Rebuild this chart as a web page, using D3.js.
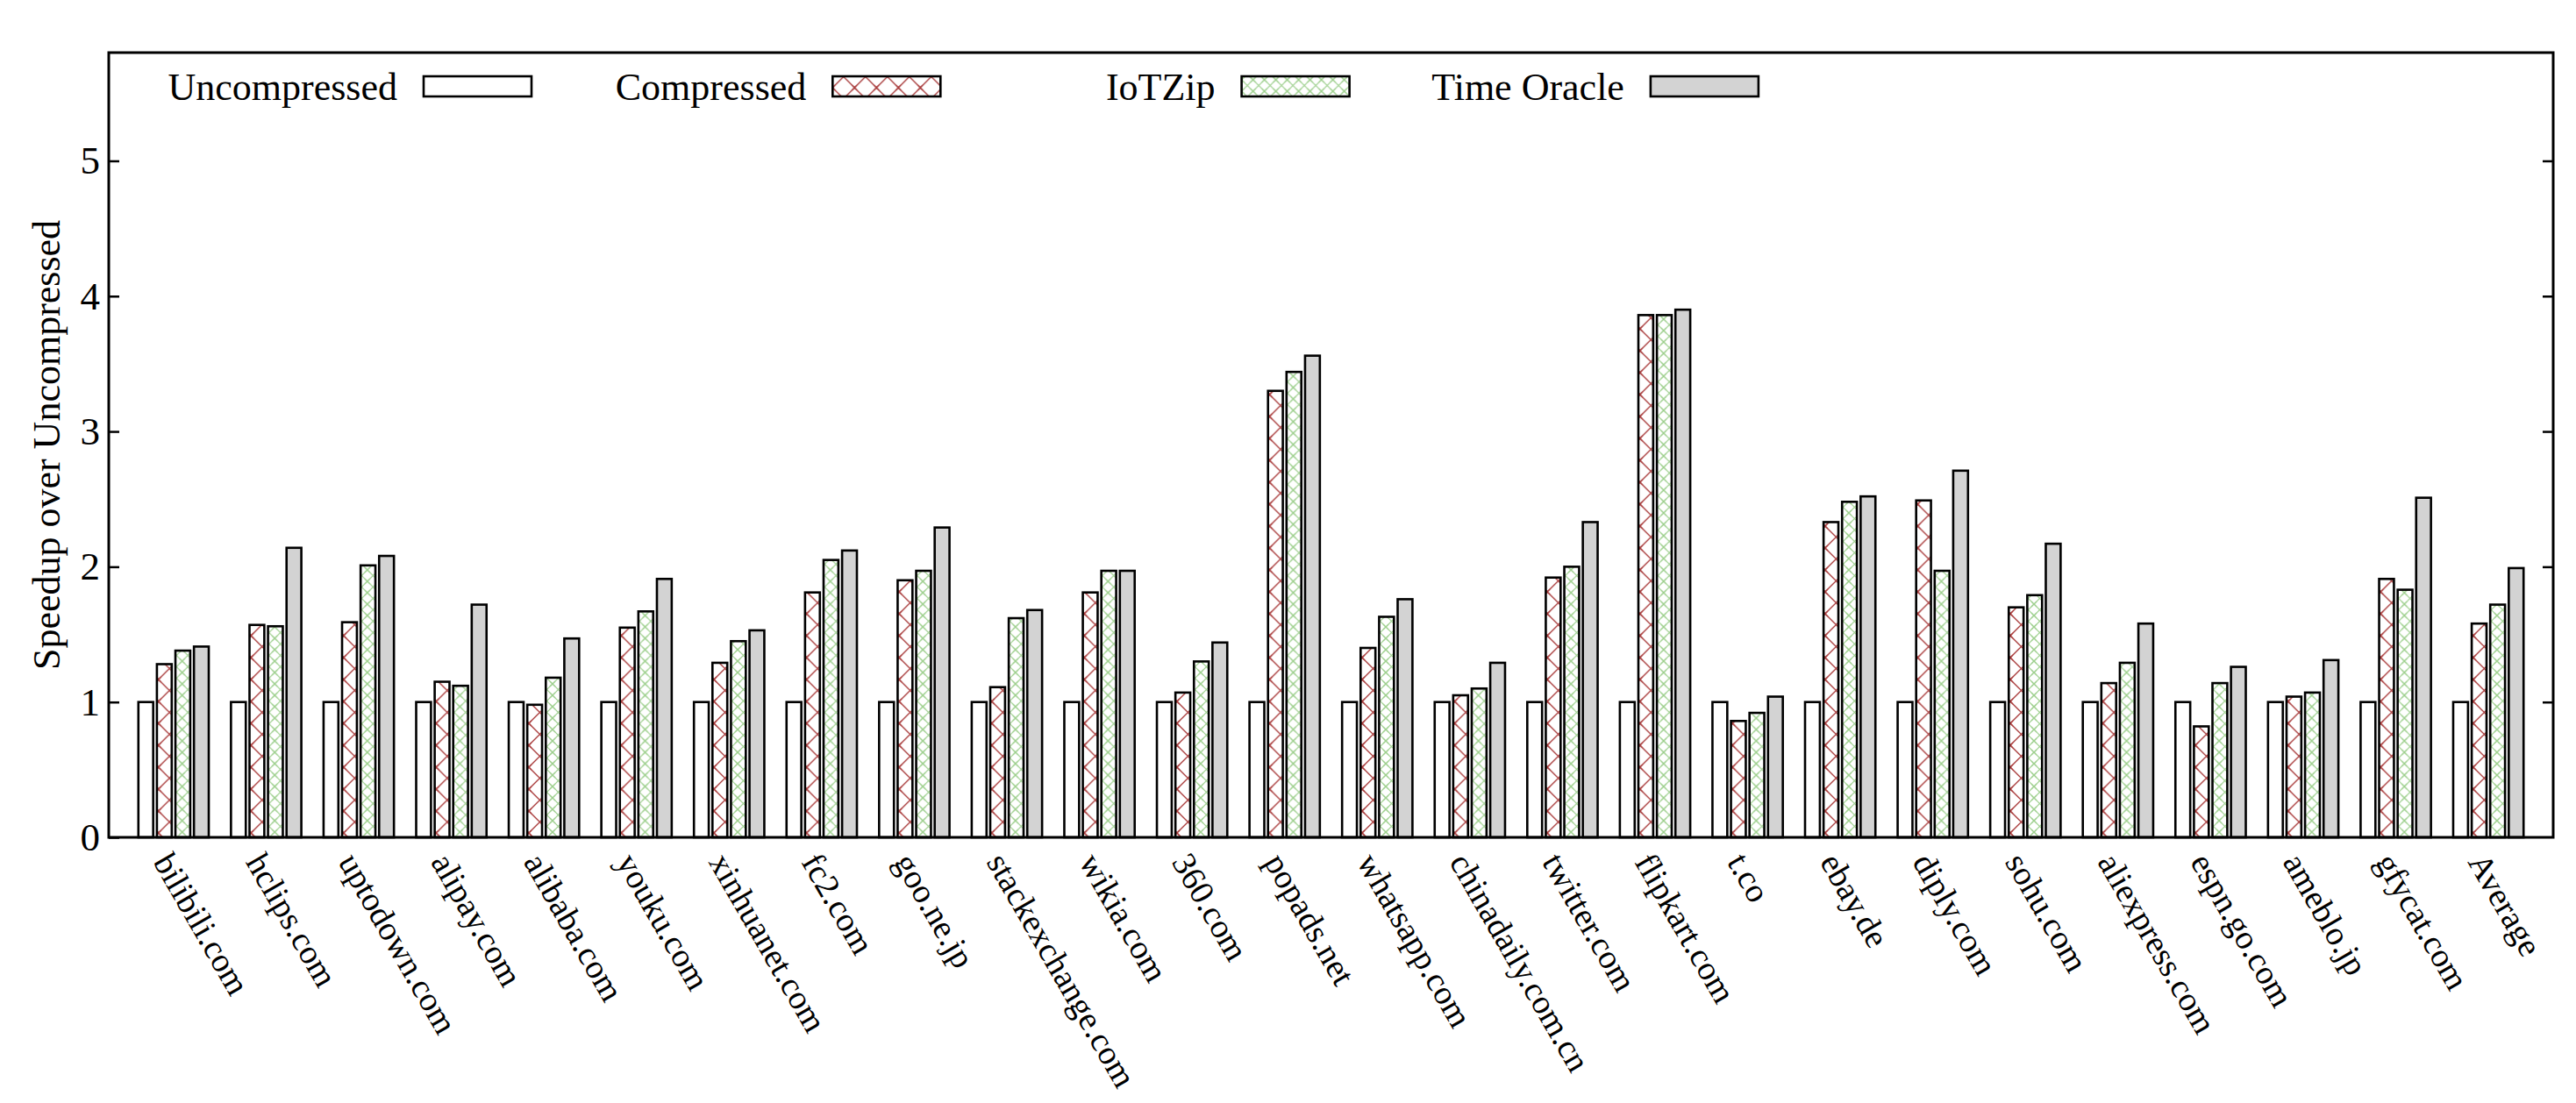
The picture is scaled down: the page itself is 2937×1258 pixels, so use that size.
<!DOCTYPE html>
<html><head><meta charset="utf-8">
<script src="https://cdn.jsdelivr.net/npm/d3@7"></script>
<style>html,body{margin:0;padding:0;background:#fff;} svg{display:block}</style>
</head><body>
<svg id="chart" width="2937" height="1258"></svg>
<script>
// ---------------- data ----------------
const categories = ["bilibili.com","hclips.com","uptodown.com","alipay.com","alibaba.com","youku.com",
  "xinhuanet.com","fc2.com","goo.ne.jp","stackexchange.com","wikia.com","360.com","popads.net",
  "whatsapp.com","chinadaily.com.cn","twitter.com","flipkart.com","t.co","ebay.de","diply.com",
  "sohu.com","aliexpress.com","espn.go.com","ameblo.jp","gfycat.com","Average"];
const seriesNames = ["Uncompressed","Compressed","IoTZip","Time Oracle"];
const uncompressed = [1,1,1,1,1,1,1,1,1,1,1,1,1,1,1,1,1,1,1,1,1,1,1,1,1,1];
const compressed   = [1.28,1.57,1.59,1.15,0.98,1.55,1.29,1.81,1.90,1.11,1.81,1.07,3.30,1.40,1.05,1.92,3.86,0.86,2.33,2.49,1.70,1.14,0.82,1.04,1.91,1.58];
const iotzip       = [1.38,1.56,2.01,1.12,1.18,1.67,1.45,2.05,1.97,1.62,1.97,1.30,3.44,1.63,1.10,2.00,3.86,0.92,2.48,1.97,1.79,1.29,1.14,1.07,1.83,1.72];
const timeOracle   = [1.41,2.14,2.08,1.72,1.47,1.91,1.53,2.12,2.29,1.68,1.97,1.44,3.56,1.76,1.29,2.33,3.90,1.04,2.52,2.71,2.17,1.58,1.26,1.31,2.51,1.99];
const yTicks = [0,1,2,3,4,5];
const yMax = 5.8;
const yLabel = "Speedup over Uncompressed";

// ---------------- layout ----------------
const FONT = "'Liberation Serif', 'DejaVu Serif', serif";
const plot = {left:124, right:2911, top:60, bottom:955};
const svg = d3.select("#chart");
const defs = svg.append("defs");

function hatch(id, size, color, sw){
  const p = defs.append("pattern").attr("id", id).attr("patternUnits","userSpaceOnUse")
    .attr("width", size).attr("height", size);
  p.append("rect").attr("width", size).attr("height", size).attr("fill","#fff");
  const e = size*0.5;
  [[-e,-e,size+e,size+e],[-e,size+e,size+e,-e]].forEach(([a,b,c,d])=>{
    p.append("line").attr("x1",a).attr("y1",b).attr("x2",c).attr("y2",d)
      .attr("stroke",color).attr("stroke-width",sw);
  });
  [[0,0],[size,0],[0,size],[size,size]].forEach(([cx,cy])=>{
    p.append("line").attr("x1",cx-3).attr("y1",cy-3).attr("x2",cx+3).attr("y2",cy+3).attr("stroke",color).attr("stroke-width",sw);
    p.append("line").attr("x1",cx-3).attr("y1",cy+3).attr("x2",cx+3).attr("y2",cy-3).attr("stroke",color).attr("stroke-width",sw);
  });
}
hatch("pComp", 25, "#a83a3a", 1.3);
hatch("pIot", 13, "#9ccf8c", 1.2);

const fills = {"Uncompressed":"#ffffff","Compressed":"url(#pComp)","IoTZip":"url(#pIot)","Time Oracle":"#d3d3d3"};
const seriesData = {"Uncompressed":uncompressed,"Compressed":compressed,"IoTZip":iotzip,"Time Oracle":timeOracle};

const x0 = d3.scaleBand().domain(categories).range([plot.left, plot.right]).paddingInner(0.2).paddingOuter(0.3);
const x1 = d3.scaleBand().domain(seriesNames).range([0, x0.bandwidth()]).paddingInner(0.2).paddingOuter(0.1);
const y = d3.scaleLinear().domain([0, yMax]).range([plot.bottom, plot.top]);

// bars
const groups = svg.append("g").selectAll("g").data(categories).join("g")
  .attr("transform", d => `translate(${x0(d)},0)`);
groups.selectAll("rect").data((c,i) => seriesNames.map(s => ({s, v: seriesData[s][i]})))
  .join("rect")
  .attr("x", d => x1(d.s))
  .attr("width", x1.bandwidth())
  .attr("y", d => y(d.v))
  .attr("height", d => y(0) - y(d.v))
  .attr("fill", d => fills[d.s])
  .attr("stroke", "#000").attr("stroke-width", 2.6);

// axes
const left = svg.append("g").attr("transform", `translate(${plot.left},0)`)
  .call(d3.axisLeft(y).tickValues(yTicks).tickSizeInner(-12).tickSizeOuter(0).tickPadding(10).tickFormat(d3.format("d")));
left.select(".domain").remove();
left.selectAll("line").attr("stroke","#000").attr("stroke-width",2.5);
left.selectAll("text").attr("font-family", FONT).attr("font-size", 45).attr("fill","#000");

const right = svg.append("g").attr("transform", `translate(${plot.right},0)`)
  .call(d3.axisRight(y).tickValues(yTicks.filter(t=>t>0)).tickSizeInner(-12).tickSizeOuter(0).tickFormat(""));
right.select(".domain").remove();
right.selectAll("line").attr("stroke","#000").attr("stroke-width",2.5);

const bottom = svg.append("g").attr("transform", `translate(0,${plot.bottom})`)
  .call(d3.axisBottom(x0).tickSize(0).tickPadding(0));
bottom.select(".domain").remove();
bottom.selectAll("text")
  .attr("font-family", FONT).attr("font-size", 38.5).attr("fill","#000")
  .attr("text-anchor","start").attr("y",0).attr("dy",0)
  .attr("transform","translate(-24,28) rotate(60)");

// border
svg.append("rect").attr("x", plot.left).attr("y", plot.top)
  .attr("width", plot.right-plot.left).attr("height", plot.bottom-plot.top)
  .attr("fill","none").attr("stroke","#000").attr("stroke-width",3);

// y label
svg.append("text").attr("transform", `translate(68,${(plot.top+plot.bottom)/2}) rotate(-90)`)
  .attr("text-anchor","middle").attr("font-family",FONT).attr("font-size",44).text(yLabel);

// legend
const legendX0 = 483, legendStep = 466.3;
const lg = svg.append("g").selectAll("g").data(seriesNames).join("g")
  .attr("transform", (d,i) => `translate(${legendX0 + i*legendStep},0)`);
lg.append("rect").attr("x",0).attr("y",87).attr("width",123).attr("height",23)
  .attr("fill", d => fills[d]).attr("stroke","#000").attr("stroke-width",2.6);
lg.append("text").attr("x",-30).attr("y",114).attr("text-anchor","end")
  .attr("font-family",FONT).attr("font-size",44).text(d => d);
</script>
</body></html>
